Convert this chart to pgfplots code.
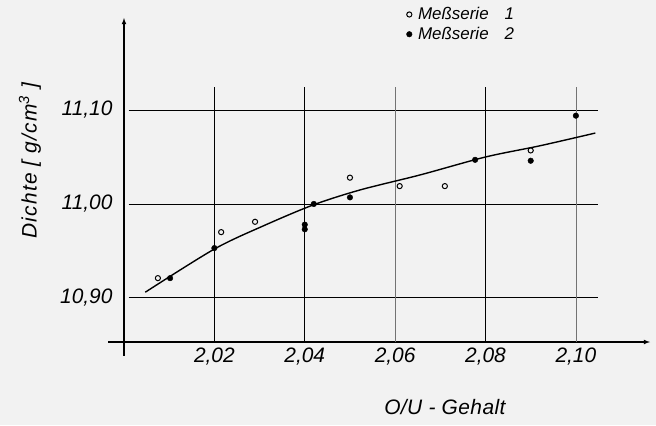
\documentclass[border=0pt]{standalone}
\usepackage{pgfplots}
\pgfplotsset{compat=1.18}
\usepackage{fontspec}
\setmainfont{Liberation Sans}

\begin{document}
\begin{tikzpicture}[x=1bp,y=1bp]
\fill[black!5] (-124,-83) rectangle (532,342);
\useasboundingbox (-124,-83) rectangle (532,342);
\begin{axis}[
  at={(0,0)}, anchor=south west,
  scale only axis, width=526bp, height=324bp,
  xmin=2.0, xmax=2.1164, ymin=10.853, ymax=11.198,
  axis x line=bottom, axis y line=left,
  axis line style={line width=1.1pt, -latex},
  clip=false,
  major tick length=0pt,
  xtick={2.02,2.04,2.06,2.08,2.10},
  xticklabels={{2,02},{2,04},{2,06},{2,08},{2,10}},
  ytick={10.9,11.0,11.1},
  yticklabels={{10,90},{11,00},{11,10}},
  tick label style={font=\itshape\fontsize{21}{21}\selectfont},
  xticklabel style={yshift=-2bp},
  yticklabel style={xshift=-8bp},
  xlabel={O/U - Gehalt},
  ylabel={Dichte [ g/cm\textsuperscript{3} ]},
  label style={font=\itshape\fontsize{21}{21}\selectfont},
  xlabel style={at={(rel axis cs:0.61,-0.2)}, anchor=center, font=\itshape\fontsize{21}{21}\selectfont\addfontfeatures{LetterSpace=2}},
  ylabel style={at={(rel axis cs:-0.179,0.56)}, anchor=center, rotate=0, font=\itshape\fontsize{21}{21}\selectfont\addfontfeatures{LetterSpace=6}},
  legend style={at={(rel axis cs:0.531,1.045)}, anchor=north west, draw=none, fill=none,
    font=\itshape\fontsize{17}{17}\selectfont, row sep=2bp},
  legend cell align=left,
]
% grid lines
\draw[line width=0.8pt] (axis cs:2.001,10.90) -- (axis cs:2.105,10.90);
\draw[line width=0.8pt] (axis cs:2.001,11.00) -- (axis cs:2.105,11.00);
\draw[line width=0.8pt] (axis cs:2.001,11.10) -- (axis cs:2.105,11.10);
\draw[line width=0.8pt] (axis cs:2.02,10.853) -- (axis cs:2.02,11.125);
\draw[line width=0.9pt] (axis cs:2.04,10.853) -- (axis cs:2.04,11.125);
\draw[line width=0.5pt, black!55] (axis cs:2.06,10.853) -- (axis cs:2.06,11.125);
\draw[line width=0.9pt] (axis cs:2.08,10.853) -- (axis cs:2.08,11.125);
\draw[line width=0.5pt, black!55] (axis cs:2.10,10.853) -- (axis cs:2.10,11.125);
% axis stubs
\draw[line width=1.1pt] (axis cs:2.0,10.853) -- (axis cs:2.0,10.838);
\draw[line width=1.1pt] (axis cs:1.9965,10.853) -- (axis cs:2.0,10.853);

% fitted curve
\addplot[black, line width=1.4pt, smooth, forget plot] coordinates {
(2.0047,10.906) (2.020,10.952) (2.031,10.977) (2.0419,10.999)
(2.0523,11.015) (2.0656,11.031) (2.080,11.050) (2.0921,11.062) (2.1043,11.0755)
};

\addplot[only marks, mark=o, mark size=2.6bp, mark options={line width=1pt, fill=white}] coordinates {
(2.0075,10.921) (2.0215,10.970) (2.029,10.981) (2.050,11.028)
(2.061,11.019) (2.071,11.019) (2.090,11.057)
};
\addlegendentry{\hspace{4bp}Meßserie\hspace{16bp}1}

\addplot[only marks, mark=*, mark size=2.8bp] coordinates {
(2.0102,10.921) (2.020,10.953) (2.040,10.978) (2.040,10.973)
(2.042,11.000) (2.050,11.007) (2.0777,11.047) (2.090,11.046) (2.100,11.094)
};
\addlegendentry{\hspace{4bp}Meßserie\hspace{16bp}2}
\end{axis}
\end{tikzpicture}
\end{document}
